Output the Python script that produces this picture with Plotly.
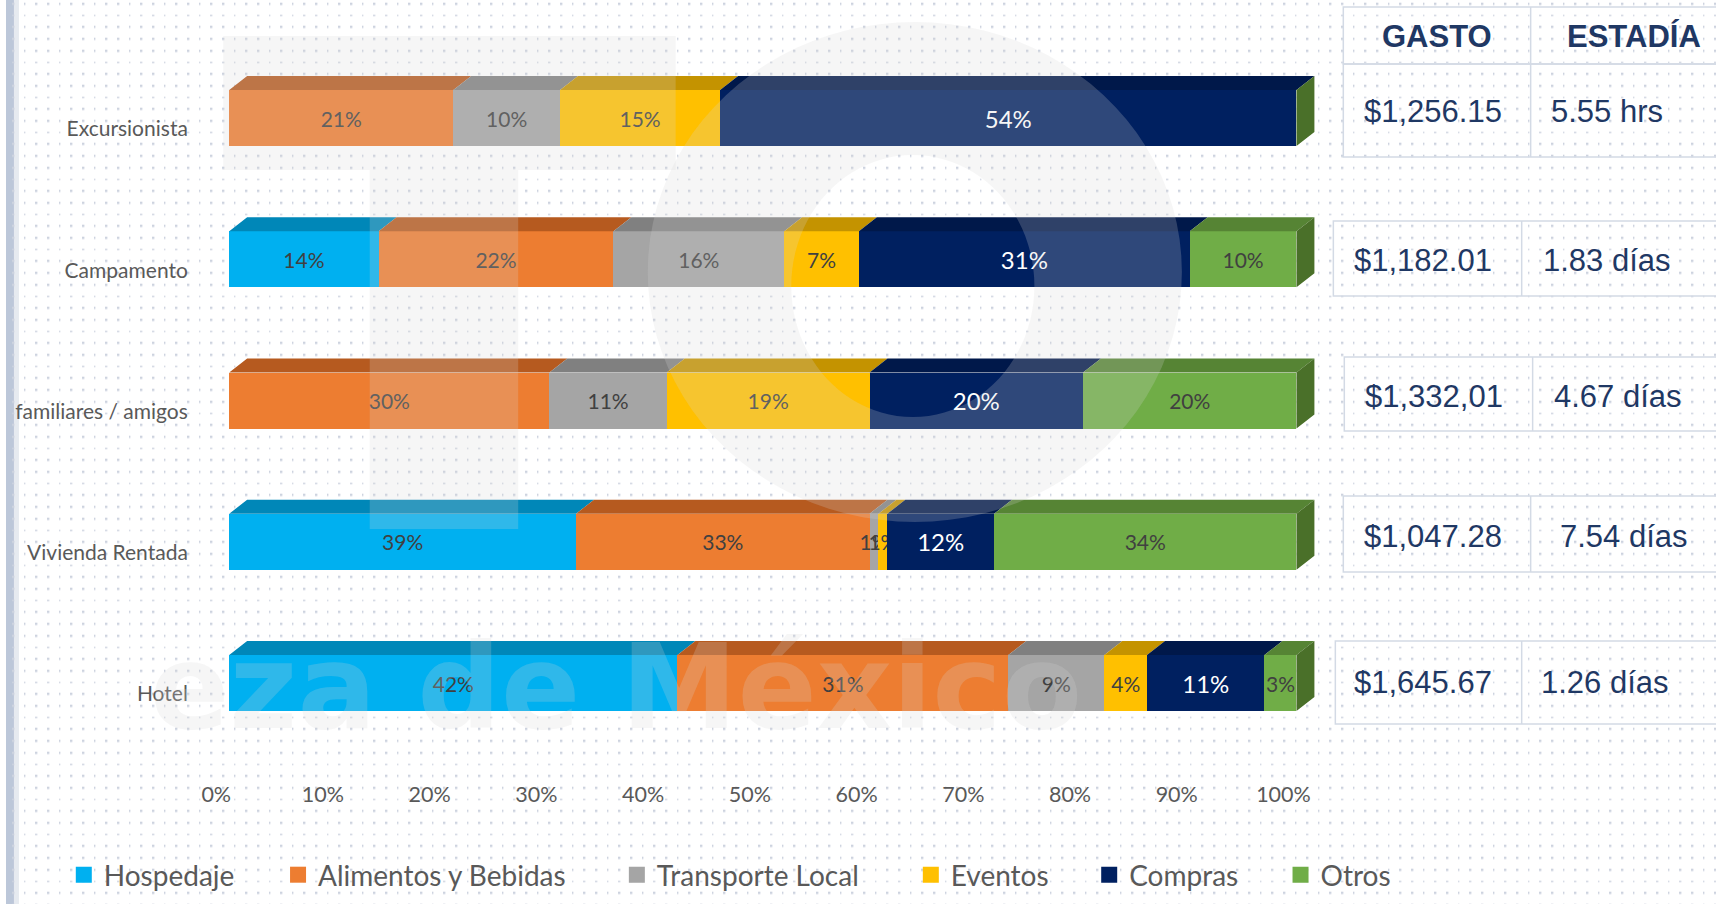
import math
import plotly.graph_objects as go

# ---------------- data ----------------
categories = ["Excursionista", "Campamento", "familiares / amigos", "Vivienda Rentada", "Hotel"]
series_names = ["Hospedaje", "Alimentos y Bebidas", "Transporte Local", "Eventos", "Compras", "Otros"]
hospedaje = [0, 14, 0, 39, 42]
alimentos = [21, 22, 30, 33, 31]
transporte = [10, 16, 11, 1, 9]
eventos = [15, 7, 19, 1, 4]
compras = [54, 31, 20, 12, 11]
otros = [0, 10, 20, 34, 3]
gasto = ["$1,256.15", "$1,182.01", "$1,332,01", "$1,047.28", "$1,645.67"]
estadia = ["5.55 hrs", "1.83 días", "4.67 días", "7.54 días", "1.26 días"]
table_headers = ["GASTO", "ESTADÍA"]
x_tick_values = [0, 10, 20, 30, 40, 50, 60, 70, 80, 90, 100]
x_tick_labels = ["0%", "10%", "20%", "30%", "40%", "50%", "60%", "70%", "80%", "90%", "100%"]
watermark_text = "eza de México"

series_values = [hospedaje, alimentos, transporte, eventos, compras, otros]

# ---------------- styles ----------------
front_colors = ["#00B0F0", "#ED7D31", "#A5A5A5", "#FFC000", "#002060", "#70AD47"]
top_colors = ["#0087B8", "#B65A1F", "#808080", "#C49300", "#00184A", "#568434"]
side_color = "#4A7029"
label_colors = ["#404040", "#404040", "#404040", "#404040", "#FFFFFF", "#404040"]
label_sizes = [21, 21, 21, 21, 24, 21]
TEXT_GRAY = "#595959"
NAVY = "#1F3864"
WATERMARK = "rgba(215,215,215,0.22)"

W, H = 1716, 904
X0_PX, PX_PER_PCT = 224.0, 10.71
Y0_PX, PX_PER_ROW = 683.0, 141.25
XR = [-2, 103]
YR = [-0.6, 4.6]
BAR_W = 56.0 / PX_PER_ROW
DX = 18.0 / PX_PER_PCT
DY = 14.0 / PX_PER_ROW

y_pos = [len(categories) - 1 - i for i in range(len(categories))]


def px_x(p):
    return p / W


def px_y(p):
    return 1 - p / H


fig = go.Figure()

# ---- slide background texture (dotted pattern) on a full-page subplot ----
DOT_STEP = 11.7
dot_x = [7.8 + i * DOT_STEP for i in range(int(W / DOT_STEP) + 1)]
dot_y = [4.5 + j * DOT_STEP for j in range(int(H / DOT_STEP) + 1)]
fig.add_trace(go.Heatmap(
    x=dot_x, y=dot_y, z=[[1] * len(dot_x) for _ in dot_y],
    colorscale=[[0, "#CDD3DF"], [1, "#CDD3DF"]], showscale=False,
    xgap=9.6, ygap=9.6, hoverinfo="skip", xaxis="x", yaxis="y",
))

# ---- front faces (100% stacked) ----
for k, name in enumerate(series_names):
    vals = series_values[k]
    fig.add_trace(go.Bar(
        name=name, x=vals, y=y_pos, orientation="h", width=BAR_W,
        marker=dict(color=front_colors[k], line=dict(width=0)),
        text=[f"{v}%" if v > 0 else "" for v in vals],
        textposition="inside", insidetextanchor="middle", textangle=0,
        constraintext="none",
        textfont=dict(family="Lato", size=label_sizes[k], color=label_colors[k]),
        showlegend=False, hoverinfo="skip", xaxis="x2", yaxis="y2",
    ))

# ---- 3D top faces and right side face, computed from the normalised data ----
totals = [sum(series_values[k][r] for k in range(len(series_names))) for r in range(len(categories))]
for k in range(len(series_names)):
    xs, ys = [], []
    for r in range(len(categories)):
        v = series_values[k][r]
        if v <= 0:
            continue
        start = sum(series_values[j][r] for j in range(k)) / totals[r] * 100
        end = start + v / totals[r] * 100
        yt = y_pos[r] + BAR_W / 2
        xs += [start, end, end + DX, start + DX, start, None]
        ys += [yt, yt, yt + DY, yt + DY, yt, None]
    fig.add_trace(go.Scatter(x=xs, y=ys, mode="lines", fill="toself",
                             fillcolor=top_colors[k], line=dict(width=0),
                             showlegend=False, hoverinfo="skip", xaxis="x2", yaxis="y2"))
xs, ys = [], []
for r in range(len(categories)):
    yt = y_pos[r] + BAR_W / 2
    yb = y_pos[r] - BAR_W / 2
    xs += [100, 100 + DX, 100 + DX, 100, 100, None]
    ys += [yb, yb + DY, yt + DY, yt, yb, None]
fig.add_trace(go.Scatter(x=xs, y=ys, mode="lines", fill="toself",
                         fillcolor=side_color, line=dict(width=0),
                         showlegend=False, hoverinfo="skip", xaxis="x2", yaxis="y2"))

# ---- legend entries (one legend per entry to reproduce the spacing) ----
legend_text_start_px = [98, 313, 653, 948, 1127, 1319]
legend_y_px = 875
for k, name in enumerate(series_names):
    lg = "legend" if k == 0 else f"legend{k + 1}"
    fig.add_trace(go.Scatter(
        x=[None], y=[None], mode="markers", name=name, legend=lg,
        marker=dict(symbol="square", size=18, color=front_colors[k]),
        showlegend=True, hoverinfo="skip", xaxis="x2", yaxis="y2"))

legend_layouts = {}
for k in range(len(series_names)):
    lg = "legend" if k == 0 else f"legend{k + 1}"
    legend_layouts[lg] = dict(
        x=(legend_text_start_px[k] - 40) / W, xanchor="left",
        y=1 - legend_y_px / H, yanchor="middle",
        orientation="h", bgcolor="rgba(0,0,0,0)", borderwidth=0,
        font=dict(family="Lato", size=28, color=TEXT_GRAY),
        itemclick=False, itemdoubleclick=False,
    )

# ---------------- table on the right ----------------
shapes = []
annotations = []
line_col = "#D3DAE5"
rows_box = [(1342, 1530, 64, 157), (1332, 1521, 221, 296), (1343, 1532, 357, 431),
            (1342, 1530, 496, 572), (1334, 1521, 641, 724)]
RIGHT = 1730
shapes.append(dict(type="rect", xref="paper", yref="paper", x0=px_x(1342), x1=px_x(RIGHT),
                   y0=px_y(64), y1=px_y(7), fillcolor="rgba(255,255,255,0)",
                   line=dict(color=line_col, width=1.5), layer="above"))
shapes.append(dict(type="line", xref="paper", yref="paper", x0=px_x(1530), x1=px_x(1530),
                   y0=px_y(64), y1=px_y(7), line=dict(color=line_col, width=1.5), layer="above"))
for (l, m, t, b) in rows_box:
    shapes.append(dict(type="rect", xref="paper", yref="paper", x0=px_x(l), x1=px_x(RIGHT),
                       y0=px_y(b), y1=px_y(t), fillcolor="rgba(255,255,255,0)",
                       line=dict(color=line_col, width=1.5), layer="above"))
    shapes.append(dict(type="line", xref="paper", yref="paper", x0=px_x(m), x1=px_x(m),
                       y0=px_y(b), y1=px_y(t), line=dict(color=line_col, width=1.5), layer="above"))

header_pos = [(1436, 37), (1634, 37)]
for txt, (cx, cy) in zip(table_headers, header_pos):
    annotations.append(dict(text=f"<b>{txt}</b>", x=px_x(cx), y=px_y(cy), xref="paper", yref="paper",
                            xanchor="center", yanchor="middle", showarrow=False,
                            font=dict(family="Liberation Sans, Arial", size=31, color=NAVY)))
gasto_pos = [(1432, 112), (1422, 261), (1433, 396), (1432, 536), (1422, 682)]
estadia_pos = [(1607, 112), (1607, 261), (1618, 396), (1624, 536), (1605, 682)]
for r in range(len(categories)):
    for txt, (cx, cy) in ((gasto[r], gasto_pos[r]), (estadia[r], estadia_pos[r])):
        annotations.append(dict(text=txt, x=px_x(cx), y=px_y(cy), xref="paper", yref="paper",
                                xanchor="center", yanchor="middle", showarrow=False,
                                font=dict(family="Liberation Sans, Arial", size=31, color=NAVY)))

# slide edge strip on the left
shapes.append(dict(type="rect", xref="paper", yref="paper", x0=0, x1=px_x(8), y0=0, y1=1,
                   fillcolor="#BCC7D9", line=dict(width=0), layer="below"))
shapes.append(dict(type="rect", xref="paper", yref="paper", x0=px_x(8), x1=px_x(13), y0=0, y1=1,
                   fillcolor="#E6EAF0", line=dict(width=0), layer="below"))

# ---------------- faint slide watermark over the chart ----------------
def ellipse_path(cx, cy, a, b, n=96):
    pts = []
    for i in range(n):
        t = 2 * math.pi * i / n
        pts.append((px_x(cx + a * math.cos(t)), px_y(cy + b * math.sin(t))))
    return "M" + " L".join(f"{x:.5f},{y:.5f}" for x, y in pts) + " Z"


ring_path = ellipse_path(912, 272, 268, 250) + " " + ellipse_path(910, 286, 122, 131)
shapes.append(dict(type="path", xref="paper", yref="paper", path=ring_path, fillrule="evenodd",
                   fillcolor=WATERMARK, line=dict(width=0), layer="above"))
t_pts = [(218, 36), (672, 36), (672, 170), (514, 170), (514, 529), (365, 529), (365, 170), (218, 170)]
t_path = "M" + " L".join(f"{px_x(x):.5f},{px_y(y):.5f}" for x, y in t_pts) + " Z"
shapes.append(dict(type="path", xref="paper", yref="paper", path=t_path,
                   fillcolor=WATERMARK, line=dict(width=0), layer="above"))
annotations.append(dict(text=f"<b>{watermark_text}</b>", x=px_x(142), y=px_y(687),
                        xref="paper", yref="paper", xanchor="left", yanchor="middle",
                        showarrow=False,
                        font=dict(family="DejaVu Sans", size=117, color=WATERMARK)))

fig.update_layout(
    width=W, height=H,
    margin=dict(l=0, r=0, t=0, b=0),
    paper_bgcolor="white", plot_bgcolor="rgba(0,0,0,0)",
    barmode="stack", barnorm="percent",
    xaxis=dict(range=[0, W], domain=[0, 1], visible=False, fixedrange=True, anchor="y"),
    yaxis=dict(range=[H, 0], domain=[0, 1], visible=False, fixedrange=True, anchor="x"),
    xaxis2=dict(range=XR, domain=[(X0_PX + XR[0] * PX_PER_PCT) / W, (X0_PX + XR[1] * PX_PER_PCT) / W],
                anchor="y2", tickvals=x_tick_values, ticktext=x_tick_labels,
                showgrid=False, zeroline=False, showline=False, ticks="",
                ticklabelshift=-13, ticklabelstandoff=12,
                tickfont=dict(family="Lato", size=21.5, color=TEXT_GRAY), fixedrange=True),
    yaxis2=dict(range=YR, domain=[1 - (Y0_PX - YR[0] * PX_PER_ROW) / H, 1 - (Y0_PX - YR[1] * PX_PER_ROW) / H],
                anchor="x2", tickvals=y_pos, ticktext=categories,
                showgrid=False, zeroline=False, showline=False, ticks="",
                ticklabelshift=11, ticklabelstandoff=19,
                tickfont=dict(family="Lato", size=21, color=TEXT_GRAY), fixedrange=True),
    shapes=shapes, annotations=annotations,
    **legend_layouts,
)

fig.write_html("out.html")
